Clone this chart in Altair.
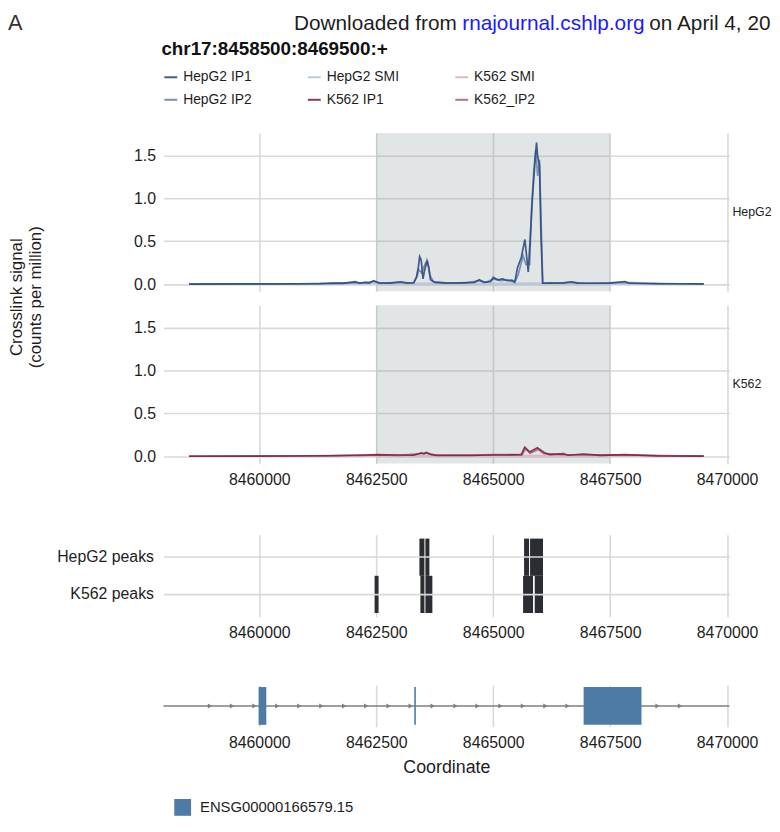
import altair as alt
import pandas as pd

FONT = "Liberation Sans"

# ---------------- data ----------------
x_ticks = [8460000, 8462500, 8465000, 8467500, 8470000]
y_ticks = [0.0, 0.5, 1.0, 1.5]
x_limits = [8457950, 8470050]
shade_range = [8462500, 8467500]

series_names = ["HepG2 IP1", "HepG2 IP2", "HepG2 SMI", "K562 IP1", "K562 SMI", "K562_IP2"]
series_colors = ["#2c4b7f", "#6b84b3", "#b5c3de", "#7b2447", "#deafbb", "#ad6680"]

hepg2_ip1_x = [8458500, 8459500, 8460500, 8461300, 8461600, 8461800, 8462050, 8462150, 8462255, 8462350,
               8462443, 8462550, 8462800, 8463030, 8463150, 8463300, 8463360, 8463400, 8463428, 8463460,
               8463500, 8463530, 8463585, 8463620, 8463660, 8463750, 8464000, 8464300, 8464600, 8464706,
               8464800, 8464950, 8465000, 8465100, 8465200, 8465300, 8465400, 8465460, 8465520, 8465600,
               8465678, 8465750, 8465842, 8465906, 8465927, 8465950, 8465990, 8466020, 8466056, 8466200,
               8466500, 8466670, 8466800, 8467200, 8467500, 8467815, 8467900, 8468500, 8469000, 8469500]
hepg2_ip1_y = [0.0, 0.002, 0.003, 0.005, 0.012, 0.008, 0.028, 0.01, 0.02, 0.012,
               0.04, 0.015, 0.012, 0.027, 0.012, 0.015, 0.08, 0.2, 0.32, 0.28,
               0.06, 0.15, 0.27, 0.2, 0.05, 0.02, 0.012, 0.015, 0.02, 0.05,
               0.02, 0.03, 0.077, 0.05, 0.06, 0.04, 0.045, 0.02, 0.19, 0.31,
               0.52, 0.14, 1.03, 1.53, 1.65, 1.49, 1.38, 0.6, 0.01, 0.012,
               0.015, 0.027, 0.012, 0.01, 0.012, 0.03, 0.01, 0.006, 0.004, 0.002]

hepg2_ip2_x = [8458500, 8459800, 8460800, 8461500, 8462000, 8462200, 8462450, 8462600, 8463000, 8463300,
               8463380, 8463410, 8463470, 8463520, 8463560, 8463600, 8463650, 8463720, 8464000, 8464400,
               8464700, 8464850, 8465000, 8465150, 8465300, 8465420, 8465480, 8465540, 8465640, 8465700,
               8465780, 8465820, 8465870, 8465910, 8465950, 8465990, 8466030, 8466060, 8466400, 8466700,
               8467000, 8467800, 8468500, 8469500]
hepg2_ip2_y = [0.0, 0.002, 0.004, 0.008, 0.018, 0.015, 0.03, 0.012, 0.02, 0.012,
               0.1, 0.17, 0.13, 0.2, 0.25, 0.26, 0.1, 0.03, 0.015, 0.012,
               0.04, 0.02, 0.06, 0.04, 0.05, 0.03, 0.04, 0.12, 0.33, 0.23,
               0.23, 0.88, 1.34, 1.56, 1.26, 1.45, 0.61, 0.015, 0.012, 0.02,
               0.01, 0.02, 0.005, 0.002]

hepg2_smi_x = [8458500, 8461000, 8462500, 8463500, 8464500, 8465900, 8466500, 8468000, 8469500]
hepg2_smi_y = [0.002, 0.003, 0.005, 0.008, 0.005, 0.012, 0.005, 0.003, 0.002]

k562_ip1_x = [8458500, 8460500, 8461500, 8462277, 8462500, 8462964, 8463300, 8463464, 8463520, 8463567,
              8463653, 8463800, 8464500, 8464940, 8465300, 8465600, 8465675, 8465782, 8465945, 8466100,
              8466210, 8466500, 8466600, 8466928, 8467300, 8467816, 8468500, 8469500]
k562_ip1_y = [0.0, 0.003, 0.006, 0.015, 0.02, 0.015, 0.012, 0.04, 0.025, 0.045,
              0.025, 0.01, 0.01, 0.015, 0.015, 0.02, 0.107, 0.05, 0.1, 0.04,
              0.02, 0.03, 0.012, 0.025, 0.01, 0.02, 0.005, 0.002]

k562_ip2_x = [8458500, 8461000, 8462200, 8462500, 8463000, 8463440, 8463560, 8463700, 8464600, 8465000,
              8465620, 8465690, 8465790, 8465960, 8466080, 8466480, 8466900, 8467800, 8469500]
k562_ip2_y = [0.0, 0.004, 0.01, 0.015, 0.01, 0.03, 0.04, 0.015, 0.012, 0.02,
              0.02, 0.085, 0.035, 0.08, 0.03, 0.02, 0.018, 0.015, 0.002]

k562_smi_x = [8458500, 8462500, 8465800, 8469500]
k562_smi_y = [0.002, 0.004, 0.008, 0.002]

peak_tracks = ["HepG2 peaks", "K562 peaks"]
hepg2_peak_start = [8463423, 8463551, 8465660, 8465788]
hepg2_peak_end = [8463530, 8463636, 8465767, 8466065]
k562_peak_start = [8462465, 8463444, 8463551, 8465639, 8465888]
k562_peak_end = [8462550, 8463530, 8463700, 8465852, 8466065]

gene_id = "ENSG00000166579.15"
exon_start = [8459985, 8463313, 8466933]
exon_end = [8460150, 8463347, 8468170]
gene_line = [8457950, 8470050]
arrow_x = [8458947, 8459418, 8459897, 8460385, 8460856, 8461327, 8461815, 8462286, 8462765, 8463236,
           8463707, 8464195, 8464666, 8465155, 8465636, 8466117, 8466589, 8467060, 8467530, 8468000,
           8468513, 8468995]

# ---------------- tables ----------------
def series_df(name, cell, xs, ys):
    return pd.DataFrame({"series": name, "cell": cell, "x": xs, "y": ys})

sig = pd.concat([
    series_df("HepG2 SMI", "HepG2", hepg2_smi_x, hepg2_smi_y),
    series_df("HepG2 IP2", "HepG2", hepg2_ip2_x, hepg2_ip2_y),
    series_df("HepG2 IP1", "HepG2", hepg2_ip1_x, hepg2_ip1_y),
    series_df("K562 SMI", "K562", k562_smi_x, k562_smi_y),
    series_df("K562_IP2", "K562", k562_ip2_x, k562_ip2_y),
    series_df("K562 IP1", "K562", k562_ip1_x, k562_ip1_y),
], ignore_index=True)

shade_df = pd.DataFrame({"start": [shade_range[0]], "end": [shade_range[1]]})
peaks_df = pd.concat([
    pd.DataFrame({"track": peak_tracks[0], "start": hepg2_peak_start, "end": hepg2_peak_end}),
    pd.DataFrame({"track": peak_tracks[1], "start": k562_peak_start, "end": k562_peak_end}),
], ignore_index=True)
exon_df = pd.DataFrame({"gene": gene_id, "start": exon_start, "end": exon_end, "y0": 0.0, "y1": 1.0})
line_df = pd.DataFrame({"start": [gene_line[0]], "end": [gene_line[1]], "y": [0.5]})
arrow_df = pd.DataFrame({"x": arrow_x, "y": 0.5})

# ---------------- styling ----------------
W = 572
H_SIG = 160
GRID = "#d9d9d9"
TXT = "#1e1e1e"

xscale = alt.Scale(domain=x_limits, nice=False, zero=False)
ysig = alt.Scale(domain=[-0.084, 1.762], nice=False, zero=False)


def x_axis(labels, title=None):
    kw = dict(values=x_ticks, format="d", labels=labels, ticks=False, domain=False, grid=True,
              gridColor=GRID, gridWidth=1.6, labelFont=FONT, labelFontSize=16, labelColor=TXT,
              labelPadding=8, title=title)
    if title:
        kw.update(titleFont=FONT, titleFontSize=18, titleFontWeight="normal", titleColor=TXT,
                  titlePadding=8)
    return alt.Axis(**kw)


y_axis_sig = alt.Axis(values=y_ticks, format=".1f", ticks=False, domain=False, grid=True,
                      gridColor=GRID, gridWidth=1.6, labelFont=FONT, labelFontSize=16,
                      labelColor=TXT, labelPadding=8, title=None)

color_legend = alt.Legend(orient="none", legendX=0, legendY=-64, columns=3, title=None,
                          symbolType="stroke", symbolStrokeWidth=2, symbolSize=169,
                          labelFont=FONT, labelFontSize=14, labelColor=TXT, rowPadding=8,
                          columnPadding=52, labelOffset=5, padding=0)


def signal_panel(cell, show_labels, extra):
    d = sig[sig.cell == cell]
    rect = alt.Chart(shade_df).mark_rect(color="#7d8a8a", opacity=0.22).encode(
        x=alt.X("start:Q", scale=xscale, axis=x_axis(show_labels)),
        x2="end:Q",
        y=alt.value(0), y2=alt.value(H_SIG),
    )
    lines = alt.Chart(d).mark_line(strokeWidth=1.7, opacity=0.9).encode(
        x=alt.X("x:Q", scale=xscale, axis=x_axis(show_labels)),
        y=alt.Y("y:Q", scale=ysig, axis=y_axis_sig),
        color=alt.Color("series:N", scale=alt.Scale(domain=series_names, range=series_colors),
                        legend=color_legend),
        detail="series:N",
    )
    strip = alt.Chart(pd.DataFrame({"t": [cell]})).mark_text(
        align="left", baseline="middle", font=FONT, fontSize=12.5, color=TXT
    ).encode(x=alt.value(W + 3), y=alt.value(H_SIG / 2), text="t:N")
    return alt.layer(rect, lines, strip, *extra).properties(width=W, height=H_SIG)


def label(text, x, y, size, **kw):
    return alt.Chart(pd.DataFrame({"t": [text]})).mark_text(
        font=FONT, fontSize=size, align="left", baseline="alphabetic", **kw
    ).encode(x=alt.value(x), y=alt.value(y), text="t:N")


header = [
    label("A", -157, -104, 22, color="#333333"),
    label("Downloaded from", 132, -104.5, 21, color=TXT),
    label("rnajournal.cshlp.org", 302, -104.5, 21, color="#1a1aff"),
    label("on April 4, 20", 491, -104.5, 21, color=TXT),
    label("chr17:8458500:8469500:+", -2, -79, 19, color="#111111", fontWeight="bold"),
    alt.Chart(pd.DataFrame({"t": ["Crosslink signal\n(counts per million)"]})).mark_text(
        font=FONT, fontSize=17, align="center", baseline="middle", angle=270, lineBreak="\n",
        color=TXT, lineHeight=19,
    ).encode(x=alt.value(-148), y=alt.value(H_SIG + 6), text="t:N"),
]

hep = signal_panel("HepG2", False, header)
k562 = signal_panel("K562", True, [])


def spacer(h):
    return alt.Chart(pd.DataFrame({"a": [0]})).mark_point(opacity=0).encode(
        x=alt.value(0), y=alt.value(0)).properties(width=W, height=h)


peaks = alt.Chart(peaks_df).mark_rect(color="#2a2d31").encode(
    x=alt.X("start:Q", scale=xscale, axis=x_axis(True)),
    x2="end:Q",
    y=alt.Y("track:N", scale=alt.Scale(domain=peak_tracks, paddingInner=0, paddingOuter=0.104),
            axis=alt.Axis(bandPosition=0.5, grid=True, gridColor=GRID, gridWidth=1.6, ticks=False,
                          domain=False, labelFont=FONT, labelFontSize=16, labelColor=TXT,
                          labelPadding=10, title=None)),
).properties(width=W, height=83)

ygene = alt.Scale(domain=[-0.05, 1.05], nice=False, zero=False)
gline = alt.Chart(line_df).mark_rule(color="#7f7f7f", strokeWidth=1.5).encode(
    x=alt.X("start:Q", scale=xscale, axis=x_axis(True, "Coordinate")),
    x2="end:Q",
    y=alt.Y("y:Q", scale=ygene, axis=None),
)
garrows = alt.Chart(arrow_df).mark_point(shape="triangle-right", filled=True, size=26,
                                         color="#7f7f7f", opacity=1).encode(
    x=alt.X("x:Q", scale=xscale), y=alt.Y("y:Q", scale=ygene))
gexons = alt.Chart(exon_df).mark_rect().encode(
    x=alt.X("start:Q", scale=xscale), x2="end:Q",
    y=alt.Y("y0:Q", scale=ygene), y2="y1:Q",
    fill=alt.Fill("gene:N", scale=alt.Scale(domain=[gene_id], range=["#4e7aa6"]),
                  legend=alt.Legend(orient="none", legendX=11, legendY=673, title=None,
                                    symbolType="square", symbolSize=289, symbolStrokeWidth=0,
                                    labelFont=FONT, labelFontSize=15, labelColor=TXT,
                                    labelOffset=9, padding=0)),
)
gene = alt.layer(gline, garrows, gexons).properties(width=W, height=42)

chart = alt.vconcat(hep, k562, spacer(44), peaks, spacer(41), gene, spacing=14,
                    bounds="flush").properties(
    padding=0, background="white"
).configure_view(stroke=None)

chart.save("out.html", embed_options={"renderer": "svg", "actions": False})
